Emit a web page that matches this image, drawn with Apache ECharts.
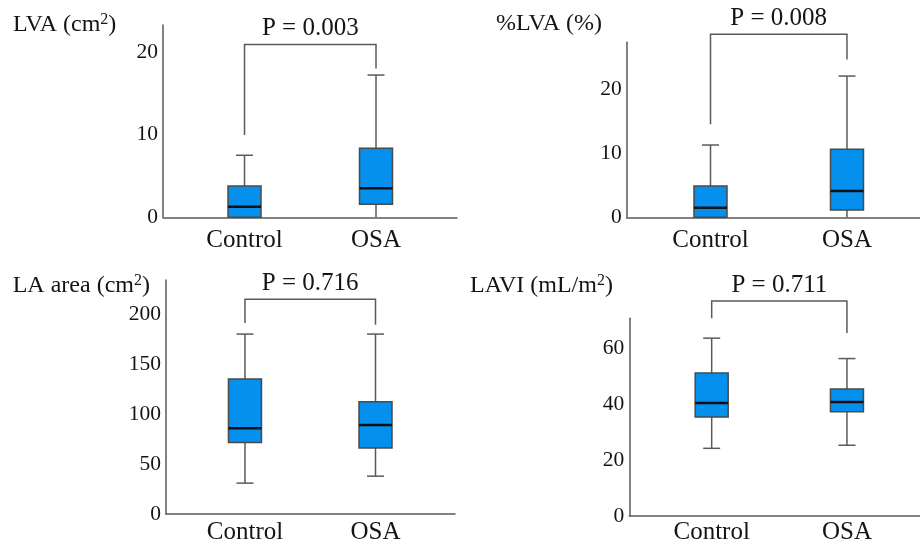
<!DOCTYPE html>
<html><head><meta charset="utf-8">
<script src="https://cdn.jsdelivr.net/npm/echarts@6/dist/echarts.min.js"></script>
<style>html,body{margin:0;padding:0;background:#fff}#c{width:920px;height:545px}</style>
</head><body><div id="c"></div>
<script>
const categories = ['Control', 'OSA'];
const panelTitles = ['LVA (cm²)', '%LVA (%)', 'LA area (cm²)', 'LAVI (mL/m²)'];
const pLabels = ['P = 0.003', 'P = 0.008', 'P = 0.716', 'P = 0.711'];
// [min, Q1, median, Q3, max] for Control, OSA
const lvaBox    = [[0, 0, 1.28, 3.78, 7.5],      [0, 1.57, 3.5, 8.34, 17.2]];
const pctLvaBox = [[0, 0, 1.5, 4.88, 11.26],     [0, 1.14, 4.1, 10.6, 22.0]];
const laAreaBox = [[31, 71.7, 86, 135.7, 180.7], [38, 66.3, 89.3, 112.7, 180.7]];
const laviBox   = [[24.2, 35.4, 40.4, 51.1, 63.6], [25.3, 37.3, 40.8, 45.4, 56.3]];
// significance bracket: [Control end, top, OSA end]
const lvaBracket    = [9.95, 20.9, 18.0];
const pctLvaBracket = [14.5, 28.5, 24.6];
const laAreaBracket = [191.7, 215.7, 190];
const laviBracket   = [70.7, 76.9, 65.4];
// y axis: max and tick step
const yMaxes = [23.25, 27.26, 235, 70.7];
const yTickSteps = [10, 10, 50, 20];

const boxes = [lvaBox, pctLvaBox, laAreaBox, laviBox];
const brackets = [lvaBracket, pctLvaBracket, laAreaBracket, laviBracket];

const FONT = "'Liberation Serif', 'Times New Roman', serif";
const TXT = '#141414';
const LINE = '#5a5a5a';

const grids = [
  {left: 163, top: 25, width: 294, height: 192.3},
  {left: 626.7, top: 42.3, width: 293.3, height: 175},
  {left: 166, top: 280, width: 289, height: 235},
  {left: 629.3, top: 318.3, width: 290.7, height: 198.4}
];
const xRanges = [[-0.62, 1.616], [-0.614, 1.535], [-0.605, 1.609], [-0.609, 1.54]];
const xLabelMargins = [11, 11, 6, 4];
const titlePos = [[13, 24.5], [496, 23.5], [12.7, 285.8], [470, 285.8]];

const xAxes = grids.map((g, i) => ({
  gridIndex: i, type: 'value', min: xRanges[i][0], max: xRanges[i][1],
  axisLine: {show: true, onZero: false, lineStyle: {color: LINE, width: 1.5}},
  axisTick: {show: false},
  splitLine: {show: false},
  axisLabel: {
    customValues: [0, 1],
    formatter: v => categories[Math.round(v)],
    fontFamily: FONT, fontSize: 25, color: TXT, margin: xLabelMargins[i]
  }
}));
const yAxes = grids.map((g, i) => ({
  gridIndex: i, type: 'value', min: 0, max: yMaxes[i], interval: yTickSteps[i],
  axisLine: {show: true, onZero: false, lineStyle: {color: LINE, width: 1.5}},
  axisTick: {show: false},
  splitLine: {show: false},
  axisLabel: {
    showMaxLabel: false,
    fontFamily: FONT, fontSize: 21.5, color: TXT, margin: 5, padding: [5, 0, 0, 0]
  }
}));

function boxRender(params, api) {
  const x = api.value(0);
  const pMin = api.coord([x, api.value(1)]);
  const pQ1 = api.coord([x, api.value(2)]);
  const pMed = api.coord([x, api.value(3)]);
  const pQ3 = api.coord([x, api.value(4)]);
  const pMax = api.coord([x, api.value(5)]);
  const axisY = api.coord([x, 0])[1];
  const cx = pQ1[0];
  const hw = 16.5, cw = 8.5;
  const ls = {stroke: LINE, lineWidth: 1.5};
  const children = [
    {type: 'line', shape: {x1: cx, y1: pMax[1], x2: cx, y2: pQ3[1]}, style: ls},
    {type: 'line', shape: {x1: cx, y1: pQ1[1], x2: cx, y2: pMin[1]}, style: ls},
    {type: 'line', shape: {x1: cx - cw, y1: pMax[1], x2: cx + cw, y2: pMax[1]}, style: ls}
  ];
  if (Math.abs(pMin[1] - axisY) > 1) {
    children.push({type: 'line', shape: {x1: cx - cw, y1: pMin[1], x2: cx + cw, y2: pMin[1]}, style: ls});
  }
  children.push(
    {type: 'rect', shape: {x: cx - hw, y: pQ3[1], width: hw * 2, height: pQ1[1] - pQ3[1]},
      style: {fill: '#0590ee', stroke: '#4a4a4a', lineWidth: 1.5}},
    {type: 'line', shape: {x1: cx - hw, y1: pMed[1], x2: cx + hw, y2: pMed[1]},
      style: {stroke: '#111', lineWidth: 2.5}}
  );
  return {type: 'group', children: children};
}

function bracketRender(i) {
  return function (params, api) {
    const a = api.coord([0, api.value(0)]);
    const t1 = api.coord([0, api.value(1)]);
    const t2 = api.coord([1, api.value(1)]);
    const b = api.coord([1, api.value(2)]);
    const ls = {stroke: LINE, lineWidth: 1.5, fill: null};
    return {
      type: 'group',
      children: [
        {type: 'polyline', shape: {points: [a, t1, t2, b]}, style: ls},
        {type: 'text', style: {
          text: pLabels[i], x: (t1[0] + t2[0]) / 2, y: t1[1] - 16,
          align: 'center', verticalAlign: 'middle',
          fontFamily: FONT, fontSize: 25, fill: TXT
        }}
      ]
    };
  };
}

const series = [];
boxes.forEach((bx, i) => {
  series.push({
    type: 'custom', xAxisIndex: i, yAxisIndex: i, clip: false,
    renderItem: boxRender,
    data: bx.map((d, k) => [k].concat(d)),
    encode: {x: 0, y: [1, 2, 3, 4, 5]}
  });
  series.push({
    type: 'custom', xAxisIndex: i, yAxisIndex: i, clip: false,
    renderItem: bracketRender(i),
    data: [brackets[i]],
    encode: {y: [0, 1, 2]}
  });
});

// render the superscript ² as a raised smaller "2"
const graphic = panelTitles.map((t, i) => ({
  type: 'text', x: titlePos[i][0], y: titlePos[i][1],
  style: {
    text: t.replace(/²/g, '{sup|2}').replace(/^([^{]*)/, '{m|$1}').replace(/\)$/, '{m|)}'),
    fontFamily: FONT, fontSize: 24, fill: TXT, verticalAlign: 'middle',
    rich: {
      m: {fontFamily: FONT, fontSize: 24, fill: TXT, color: TXT, lineHeight: 26},
      sup: {fontFamily: FONT, fontSize: 16, fill: TXT, color: TXT, verticalAlign: 'top', lineHeight: 18}
    }
  }
}));

const chart = echarts.init(document.getElementById('c'));
chart.setOption({
  animation: false,
  backgroundColor: '#fff',
  grid: grids,
  xAxis: xAxes,
  yAxis: yAxes,
  series: series,
  graphic: graphic
});
</script></body></html>
